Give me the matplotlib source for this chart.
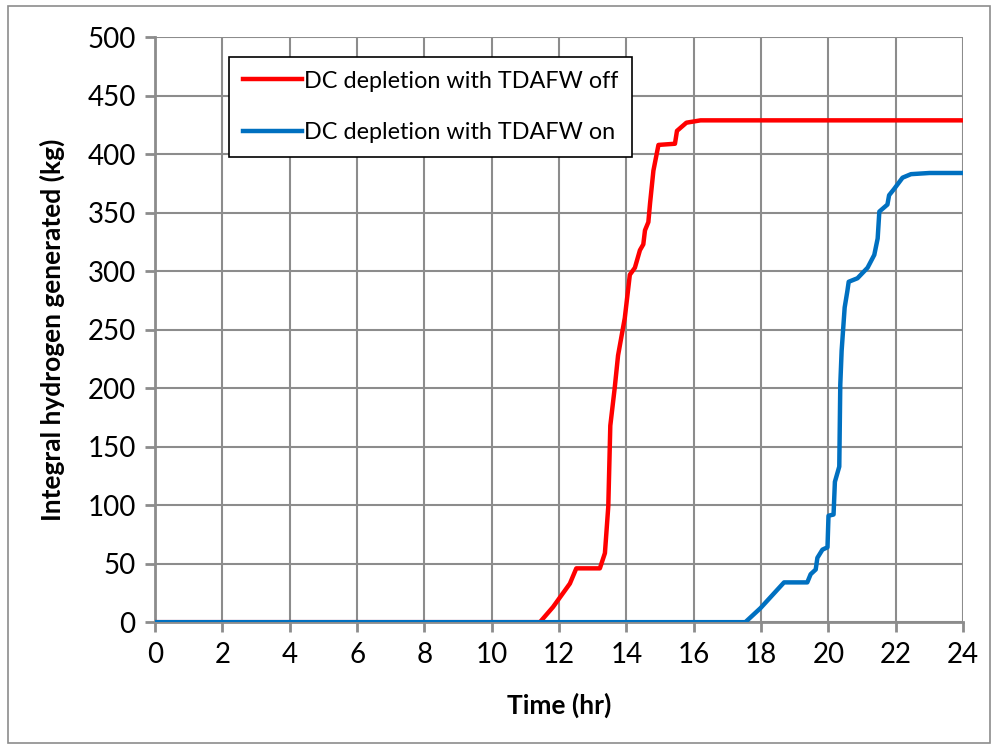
import matplotlib
matplotlib.use("Agg")
import matplotlib.pyplot as plt
from matplotlib.patches import Rectangle

plt.rcParams['font.family'] = ['Lato', 'DejaVu Sans']

# Integral hydrogen generated, TDAFW off
t_off = [0, 11.43, 11.82, 12.32, 12.51, 13.21, 13.36, 13.46, 13.52, 13.65, 13.75,
         13.95, 14.1, 14.25, 14.4, 14.5, 14.55, 14.65, 14.7, 14.8, 14.95, 15.44,
         15.5, 15.78, 16.2, 24]
h_off = [0, 0, 13, 33, 46, 46, 59, 99, 168, 200, 228,
         260, 297, 303, 318, 323, 335, 342, 358, 386, 408, 409,
         420, 427, 429, 429]

# Integral hydrogen generated, TDAFW on
t_on = [0, 17.53, 17.98, 18.68, 19.37, 19.47, 19.62, 19.67, 19.82, 19.97, 20.0,
        20.15, 20.19, 20.32, 20.35, 20.39, 20.48, 20.56, 20.6, 20.86, 21.16,
        21.36, 21.46, 21.51, 21.75, 21.8, 21.94, 22.2, 22.45, 23.0, 24]
h_on = [0, 0, 12, 34, 34, 41, 45, 55, 62, 64, 91,
        92, 120, 133, 203, 232, 269, 283, 291, 294, 303,
        314, 328, 351, 357, 365, 370, 380, 383, 384, 384]

labels = ["DC depletion with TDAFW off", "DC depletion with TDAFW on"]
x_ticks = list(range(0, 25, 2))
y_ticks = list(range(0, 501, 50))

fig = plt.figure(figsize=(9.94, 7.46), dpi=100)
fig.patch.set_facecolor("white")
fig.add_artist(Rectangle((0.008, 0.004), 0.988, 0.988, transform=fig.transFigure,
                         fill=False, edgecolor="#8c8c8c", linewidth=1.2))

ax = fig.add_axes([0.156, 0.166, 0.813, 0.784])
grid_c = "#8c8c8c"
ax.plot(t_off, h_off, color="#ff0000", linewidth=3.2, label=labels[0], zorder=3)
ax.plot(t_on, h_on, color="#0070c0", linewidth=3.2, label=labels[1], zorder=4)

ax.set_xlim(0, 24)
ax.set_ylim(0, 500)
ax.set_xticks(x_ticks)
ax.set_yticks(y_ticks)
ax.grid(True, color=grid_c, linewidth=1.5)
ax.set_axisbelow(True)
for s in ["top", "right"]:
    ax.spines[s].set_visible(False)
for s in ["left", "bottom"]:
    ax.spines[s].set_color(grid_c)
    ax.spines[s].set_linewidth(2)
ax.tick_params(axis="both", direction="out", length=7, width=2, color=grid_c,
               labelsize=20, labelcolor="black")
ax.tick_params(axis="x", pad=7)
ax.tick_params(axis="y", pad=7)

ax.set_xlabel("Time (hr)", fontsize=19, fontweight="bold", labelpad=18)
ax.set_ylabel("Integral hydrogen generated (kg)", fontsize=19, fontweight="bold", labelpad=16)

leg = ax.legend(loc="upper left", bbox_to_anchor=(0.092, 0.967), fontsize=16.8,
                frameon=True, fancybox=False, edgecolor="black", framealpha=1,
                handlelength=2.5, handletextpad=0.1, labelspacing=1.3,
                borderpad=0.6, borderaxespad=0)
leg.get_frame().set_linewidth(1.2)

fig.savefig("out.png", dpi=100, facecolor="white")
